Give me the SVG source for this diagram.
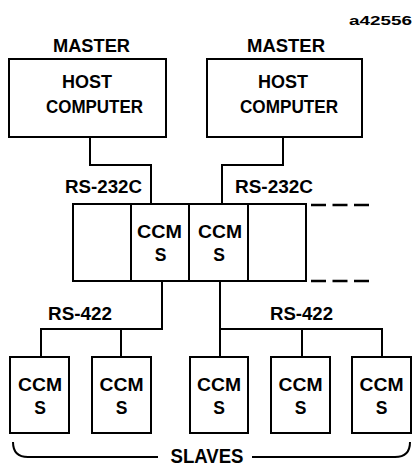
<svg xmlns="http://www.w3.org/2000/svg" width="418" height="468" viewBox="0 0 418 468">
<style>
.box{fill:#fff;stroke:#000;stroke-width:2}
.ln{fill:none;stroke:#000;stroke-width:2}
.dash{fill:none;stroke:#000;stroke-width:2.5;stroke-dasharray:15 6.5}
text{font-family:"Liberation Sans",Arial,sans-serif;font-weight:bold;font-size:17.5px;fill:#000;text-anchor:middle}
.id{font-size:13px}
.big{font-size:19.5px}
</style>
<rect width="418" height="468" fill="#fff"/>
<text class="id" x="380.5" y="25" textLength="63" lengthAdjust="spacingAndGlyphs">a42556</text>
<g id="connectors">
<path class="ln" d="M90,137 V165 H151 V204"/>
<path class="ln" d="M283,137 V165 H222 V204"/>
<path class="dash" d="M311,205 H371 M311,281 H371"/>
<path class="ln" d="M162,281 V329 H41 V357 M121,329 V357"/>
<path class="ln" d="M220,281 V357 M220,329 H382 V357 M302,329 V357"/>
<path class="ln" d="M13,442 Q13,457 28,457 H158 M252,457 H395 Q410,457 410,442"/>
</g>
<g id="master1">
<text x="91.5" y="52" textLength="77" lengthAdjust="spacingAndGlyphs">MASTER</text>
<rect class="box" x="9" y="59" width="157" height="78"/>
<text x="87" y="88" textLength="50" lengthAdjust="spacingAndGlyphs">HOST</text>
<text x="94.5" y="113" textLength="97" lengthAdjust="spacingAndGlyphs">COMPUTER</text>
</g>
<g id="master2">
<text x="286" y="52" textLength="78" lengthAdjust="spacingAndGlyphs">MASTER</text>
<rect class="box" x="207" y="59" width="155" height="78"/>
<text x="283" y="88" textLength="50" lengthAdjust="spacingAndGlyphs">HOST</text>
<text x="289" y="113" textLength="98" lengthAdjust="spacingAndGlyphs">COMPUTER</text>
</g>
<g id="label-rs232-1"><text x="103.5" y="193" textLength="77" lengthAdjust="spacingAndGlyphs">RS-232C</text></g>
<g id="label-rs232-2"><text x="274" y="193" textLength="78" lengthAdjust="spacingAndGlyphs">RS-232C</text></g>
<g id="rack">
<rect class="box" x="73" y="204" width="233" height="77"/>
<path class="ln" d="M131,204 V281 M189,204 V281 M248,204 V281"/>
<text x="159.5" y="238" textLength="45" lengthAdjust="spacingAndGlyphs">CCM</text>
<text x="160.5" y="261">S</text>
<text x="220" y="238" textLength="44" lengthAdjust="spacingAndGlyphs">CCM</text>
<text x="219" y="261">S</text>
</g>
<g id="label-rs422-1"><text x="80" y="320" textLength="64" lengthAdjust="spacingAndGlyphs">RS-422</text></g>
<g id="label-rs422-2"><text x="301.5" y="320" textLength="63" lengthAdjust="spacingAndGlyphs">RS-422</text></g>
<g id="slave1">
<rect class="box" x="10" y="357" width="59" height="76"/>
<text x="40" y="391" textLength="44" lengthAdjust="spacingAndGlyphs">CCM</text>
<text x="40" y="414">S</text>
</g>
<g id="slave2">
<rect class="box" x="92" y="357" width="59" height="76"/>
<text x="121.5" y="391" textLength="44" lengthAdjust="spacingAndGlyphs">CCM</text>
<text x="121.5" y="414">S</text>
</g>
<g id="slave3">
<rect class="box" x="190" y="357" width="58" height="76"/>
<text x="219" y="391" textLength="44" lengthAdjust="spacingAndGlyphs">CCM</text>
<text x="219" y="414">S</text>
</g>
<g id="slave4">
<rect class="box" x="271" y="357" width="59" height="76"/>
<text x="300.5" y="391" textLength="44" lengthAdjust="spacingAndGlyphs">CCM</text>
<text x="300.5" y="414">S</text>
</g>
<g id="slave5">
<rect class="box" x="352" y="357" width="59" height="76"/>
<text x="381.5" y="391" textLength="44" lengthAdjust="spacingAndGlyphs">CCM</text>
<text x="381.5" y="414">S</text>
</g>
<g id="label-slaves"><text class="big" x="207" y="463" textLength="73" lengthAdjust="spacingAndGlyphs">SLAVES</text></g>
</svg>
